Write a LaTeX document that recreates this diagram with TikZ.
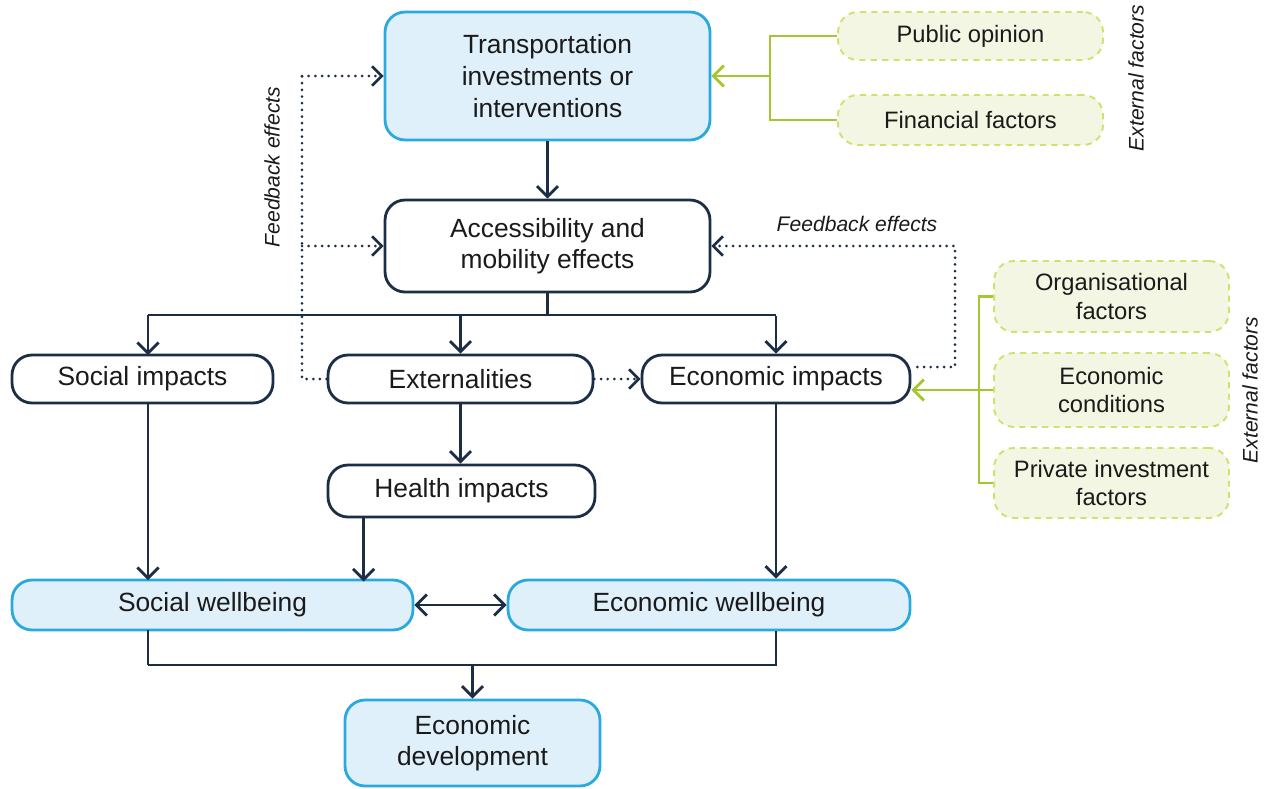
\documentclass[tikz,border=0pt]{standalone}
\usepackage{fontspec}
\setmainfont{Liberation Sans}
\usetikzlibrary{arrows.meta,calc}
\definecolor{navy}{HTML}{1C2E45}
\definecolor{cyanb}{HTML}{2AA9E0}
\definecolor{lblue}{HTML}{E0F0FA}
\definecolor{lgreen}{HTML}{A4C62E}
\definecolor{gfill}{HTML}{F3F6E2}
\definecolor{gdash}{HTML}{D2E070}
\definecolor{txt}{HTML}{1A1A1A}
\begin{document}
\begin{tikzpicture}[x=0.02cm,y=-0.02cm,
  base/.style={rounded corners=0.4cm, align=center, text=txt, font=\fontsize{15}{18}\selectfont, inner sep=0pt},
  bluebox/.style={base, draw=cyanb, fill=lblue, line width=1.6pt},
  darkbox/.style={base, draw=navy, fill=white, line width=1.6pt},
  greenbox/.style={base, draw=gdash, fill=gfill, line width=1.1pt, dash pattern=on 3.5pt off 3pt, font=\fontsize{13.5}{16}\selectfont},
  lab/.style={text=txt, font=\fontsize{12}{14}\selectfont\itshape, inner sep=0pt},
  tipb/.tip={Straight Barb[length=6pt,width=12pt,line width=1.6pt]},
  arr/.style={draw=navy, line width=1.6pt, -tipb},
  dblarr/.style={draw=navy, line width=1.6pt, tipb-tipb},
  ln/.style={draw=navy, line width=1.6pt},
  fb/.style={draw=navy, line width=1.7pt, line cap=round, dash pattern=on 0pt off 3.8pt},
  fbarr/.style={fb, -{Straight Barb[length=5.5pt,width=11pt,line width=1.5pt]}},
  gln/.style={draw=lgreen, line width=1.6pt},
  garr/.style={gln, -{Straight Barb[length=6pt,width=12pt,line width=1.6pt]}}
]
\path[use as bounding box] (0,0) rectangle (1264,788);

% main boxes
\node[bluebox, minimum width=6.5cm, minimum height=2.56cm] (t) at (547.5,76) {Transportation\\investments or\\interventions};
\node[darkbox, minimum width=6.5cm, minimum height=1.84cm] (acc) at (547.5,246) {Accessibility and\\mobility effects};
\node[darkbox, minimum width=5.22cm, minimum height=0.96cm] (soc) at (142.5,379) {Social impacts};
\node[darkbox, minimum width=5.3cm, minimum height=0.96cm] (ext) at (460.5,379) {Externalities};
\node[darkbox, minimum width=5.36cm, minimum height=0.96cm] (eco) at (776,379) {Economic impacts};
\node[darkbox, minimum width=5.34cm, minimum height=1.04cm] (hea) at (461.5,491) {Health impacts};
\node[bluebox, minimum width=8.02cm, minimum height=1.0cm] (sw) at (212.5,605) {Social wellbeing};
\node[bluebox, minimum width=8.04cm, minimum height=1.0cm] (ew) at (709,605) {Economic wellbeing};
\node[bluebox, minimum width=5.1cm, minimum height=1.72cm] (ed) at (472.5,743) {Economic\\development};

% external factor boxes
\node[greenbox, minimum width=5.3cm, minimum height=0.96cm] (po) at (970.5,36) {Public opinion};
\node[greenbox, minimum width=5.3cm, minimum height=1.0cm] (ff) at (970.5,120) {Financial factors};
\node[greenbox, minimum width=4.7cm, minimum height=1.42cm] (org) at (1111.5,296.5) {Organisational\\factors};
\node[greenbox, minimum width=4.7cm, minimum height=1.48cm] (ec) at (1111.5,390) {Economic\\conditions};
\node[greenbox, minimum width=4.7cm, minimum height=1.4cm] (pi) at (1111.5,483) {Private investment\\factors};

% labels
\node[lab, rotate=90] (fbl) at (272,167) {Feedback effects};
\node[lab] (fbr) at (857,224) {Feedback effects};
\node[lab, rotate=90] (ef1) at (1136,78) {External factors};
\node[lab, rotate=90] (ef2) at (1250,390) {External factors};

% main flow
\draw[arr] (t.south) -- (acc.north);
\draw[ln] (acc.south) -- ++(0,23) coordinate (j1);
\draw[ln] (148,315) -- (776,315);
\draw[arr] (148,315) -- (148,355);
\draw[arr] (j1 -| ext.north) -- (ext.north);
\draw[arr] (j1 -| eco.north) -- (eco.north);
\draw[arr] (ext.south) -- (ext.south |- hea.north);
\draw[arr] (148,403) -- (148,580);
\draw[arr] ($(hea.south west)+(37,0)$) -- ($(hea.south west)+(37,63)$);
\draw[arr] (eco.south) -- (eco.south |- ew.north);
\draw[dblarr] (sw.east) -- (ew.west);
\draw[ln] (148,630) -- (148,665) coordinate (j2);
\draw[ln] (ew.south -| eco.south) -- (eco.south |- j2) -- (j2);
\draw[arr] (j2 -| ed.north) -- (ed.north);

% feedback effects
\draw[fb] (ext.west) -- (302,379) -- (302,76);
\draw[fbarr] (302,76) -- (t.west);
\draw[fbarr] (302,246) -- (acc.west);
\draw[fbarr] (ext.east) -- (eco.west);
\draw[fbarr] ($(eco.east)+(6,-12)$) -- (955,367) -- (955,246) -- (acc.east);

% external factors brackets
\draw[gln] (po.west) -- (770,36) -- (770,120) -- (ff.west);
\draw[garr] (770,76) -- (t.east);
\draw[gln] (org.west) -- (979,296.5) -- (979,483) -- (pi.west);
\draw[garr] (ec.west) -- (ec.west -| eco.east);
\end{tikzpicture}
\end{document}
